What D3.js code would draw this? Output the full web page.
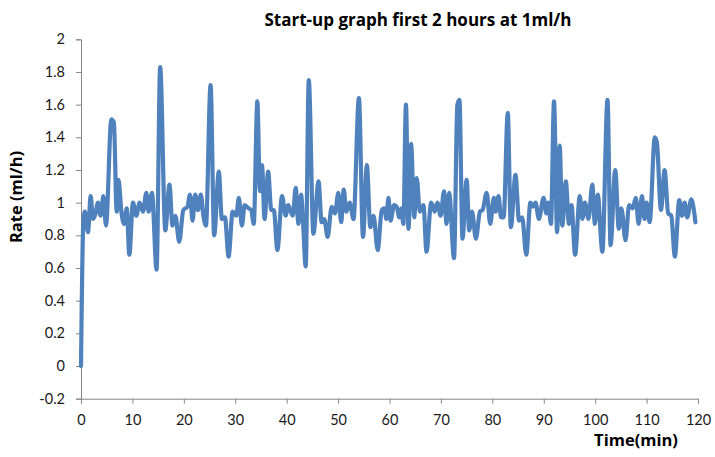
<!DOCTYPE html>
<html>
<head>
<meta charset="utf-8">
<script src="https://cdn.jsdelivr.net/npm/d3@7"></script>
<style>
  html, body { margin: 0; padding: 0; background: #fff; }
  svg { display: block; }
  .axis path, .axis line { stroke: #868686; stroke-width: 1; }
  .axis text { font-family: Lato, "Open Sans", sans-serif; font-size: 14.5px; fill: #1a1a1a; }
  .ttl { font-family: "Open Sans", Lato, sans-serif; font-weight: bold; fill: #000; }
</style>
</head>
<body>
<svg id="chart" width="715" height="457"></svg>
<script>
// ---- data ----
const timeMin = [0, 0.45, 0.75, 1.36, 1.88, 2.33, 2.79, 3.3, 3.8, 4.35, 4.86, 5.9, 6.4, 6.94, 7.3, 7.85, 8.4, 8.9, 9.4, 10.1,
  10.76, 11.4, 12.06, 12.7, 13.16, 13.8, 14.7, 15.4, 16.4, 17.2, 17.8, 18.35, 19.1, 19.9, 20.7, 21.2, 21.7, 22.2, 22.75, 23.3,
  23.8, 24.3, 25.2, 25.9, 26.8, 27.4, 28.0, 28.7, 29.5, 30.2, 30.7, 31.3, 31.83, 32.6, 33.1, 33.6, 34.3, 34.8, 35.2, 35.7,
  36.4, 37.0, 37.5, 38.2, 39.1, 39.8, 40.3, 40.7, 41.2, 41.75, 42.3, 42.8, 43.2, 43.7, 44.3, 45.2, 46.2, 46.8, 47.3, 47.97,
  48.75, 49.4, 50.05, 50.6, 51.1, 51.6, 52.25, 53.0, 54.05, 54.85, 55.6, 56.27, 56.9, 57.7, 58.5, 59.0, 59.4, 59.8, 60.2, 60.9,
  61.4, 61.9, 62.3, 62.7, 63.2, 63.7, 64.2, 64.8, 65.3, 65.9, 66.6, 67.2, 68.1, 68.8, 69.3, 69.95, 70.6, 71.1, 71.6, 72.55,
  73.2, 73.6, 74.2, 75.0, 75.5, 76.05, 76.8, 77.6, 78.1, 78.9, 79.6, 80.3, 80.65, 81.2, 81.7, 82.2, 83.0, 83.6, 84.5, 85.2,
  85.8, 86.6, 87.4, 87.9, 88.4, 89.05, 89.97, 90.5, 90.9, 91.4, 92.0, 92.6, 93.1, 93.6, 94.3, 94.9, 95.4, 96.1, 97.0, 97.5,
  98.0, 98.7, 99.45, 99.95, 100.5, 101.4, 102.4, 103.0, 103.9, 104.6, 105.1, 105.9, 106.6, 107.3, 107.9, 108.45, 109.1, 109.6, 110.0, 110.6,
  111.6, 112.0, 112.8, 113.5, 114.2, 114.8, 115.5, 116.35, 116.9, 117.4, 117.9, 118.7, 119.5];
const rateMlH = [0, 0.88, 0.945, 0.82, 1.04, 0.90, 0.93, 1.0, 0.92, 1.04, 0.86, 1.51, 1.49, 0.945, 1.14, 0.945, 0.87, 0.965, 0.68, 1.0,
  0.92, 1.0, 0.945, 1.06, 0.945, 1.06, 0.59, 1.83, 0.83, 1.11, 0.86, 0.92, 0.76, 0.955, 0.975, 1.05, 0.89, 1.05, 0.955, 1.05,
  0.92, 0.86, 1.72, 0.80, 1.19, 0.90, 0.91, 0.67, 0.945, 0.92, 1.03, 0.86, 0.985, 0.965, 0.955, 0.87, 1.62, 1.07, 1.23, 0.90,
  1.19, 0.955, 0.955, 0.71, 1.04, 0.92, 0.985, 0.955, 0.92, 1.09, 0.87, 1.05, 0.87, 0.61, 1.75, 0.81, 1.13, 0.88, 0.90, 0.79,
  0.975, 0.935, 1.06, 0.88, 1.08, 0.945, 1.0, 0.90, 1.64, 0.79, 1.23, 0.85, 0.92, 0.71, 0.955, 0.965, 0.90, 1.03, 0.89, 0.985,
  0.975, 0.91, 0.965, 0.87, 1.60, 0.84, 1.36, 0.91, 1.15, 0.945, 0.985, 0.70, 1.0, 0.945, 1.0, 0.92, 1.07, 0.87, 1.06, 0.66,
  1.60, 1.63, 0.78, 1.14, 0.83, 0.945, 0.78, 0.945, 0.955, 1.06, 0.87, 1.03, 0.945, 1.04, 0.91, 0.91, 1.55, 0.85, 1.17, 0.89,
  0.91, 0.68, 1.0, 0.975, 1.0, 0.90, 1.03, 0.935, 1.0, 0.87, 1.62, 0.82, 1.35, 0.86, 1.13, 0.87, 0.985, 0.68, 1.04, 0.90,
  1.0, 0.90, 1.11, 0.87, 1.05, 0.70, 1.63, 0.74, 1.20, 0.84, 0.965, 0.77, 0.985, 0.965, 1.03, 0.87, 1.04, 0.90, 1.0, 0.88,
  1.40, 1.37, 0.955, 1.20, 0.935, 0.92, 0.67, 1.015, 0.92, 1.0, 0.91, 1.02, 0.88];
const xTicks = [0, 10, 20, 30, 40, 50, 60, 70, 80, 90, 100, 110, 120];
const yTicks = [-0.2, 0, 0.2, 0.4, 0.6, 0.8, 1, 1.2, 1.4, 1.6, 1.8, 2];
const yTickLabels = ["-0.2", "0", "0.2", "0.4", "0.6", "0.8", "1", "1.2", "1.4", "1.6", "1.8", "2"];
const titleText = "Start-up graph first 2 hours at 1ml/h";
const xTitle = "Time(min)";
const yTitle = "Rate (ml/h)";

// ---- drawing ----
const svg = d3.select("#chart");
const plotLeft = 81, plotRight = 698, plotTop = 39.3, plotBottom = 398.7;

const x = d3.scaleLinear().domain([0, 120]).range([plotLeft, plotRight]);
const y = d3.scaleLinear().domain([-0.2, 2]).range([plotBottom, plotTop]);

svg.append("g").attr("class", "axis")
  .attr("transform", `translate(0,${plotBottom})`)
  .call(d3.axisBottom(x).tickValues(xTicks).tickSize(5).tickPadding(11).tickFormat(d3.format("d")));

svg.append("g").attr("class", "axis")
  .attr("transform", `translate(${plotLeft},0)`)
  .call(d3.axisLeft(y).tickValues(yTicks).tickSize(5).tickPadding(11)
    .tickFormat((d, i) => yTickLabels[i]));

const pts = timeMin.map((t, i) => [t, rateMlH[i]]);
const line = d3.line().x(d => x(d[0])).y(d => y(d[1])).curve(d3.curveMonotoneX);

svg.append("path")
  .datum(pts)
  .attr("d", line)
  .attr("fill", "none")
  .attr("stroke", "#4F81BD")
  .attr("stroke-width", 4.2)
  .attr("stroke-linejoin", "round")
  .attr("stroke-linecap", "round");

svg.append("text").attr("class", "ttl")
  .attr("x", 418).attr("y", 26)
  .attr("text-anchor", "middle")
  .style("font-size", "17px")
  .text(titleText);

svg.append("text").attr("class", "ttl")
  .attr("x", 636).attr("y", 446)
  .attr("text-anchor", "middle")
  .style("font-size", "16.5px")
  .text(xTitle);

svg.append("text").attr("class", "ttl")
  .attr("transform", "translate(22,197) rotate(-90)")
  .attr("text-anchor", "middle")
  .style("font-size", "16.5px")
  .text(yTitle);
</script>
</body>
</html>
